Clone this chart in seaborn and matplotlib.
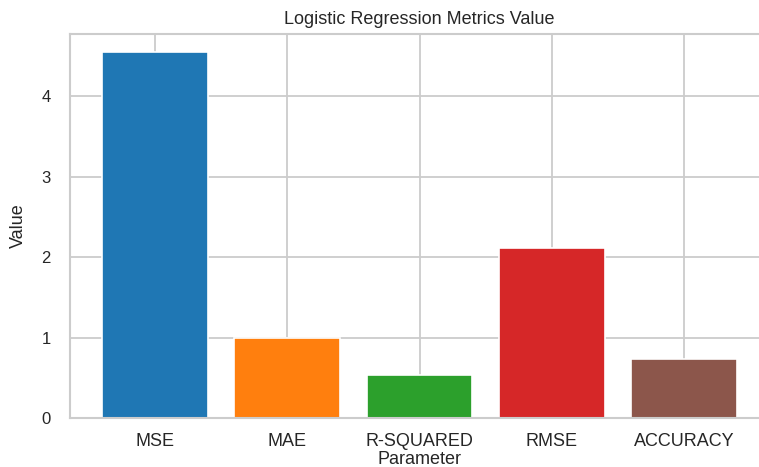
import matplotlib
matplotlib.use("Agg")
import matplotlib.pyplot as plt
import pandas as pd
import seaborn as sns

parameters = ["MSE", "MAE", "R-SQUARED", "RMSE", "ACCURACY"]
values = [4.55, 0.99, 0.54, 2.12, 0.73]
bar_colors = ["#1f77b4", "#ff7f0e", "#2ca02c", "#d62728", "#8c564b"]

sns.set_theme(style="whitegrid")
plt.rcParams["font.family"] = ["Liberation Sans", "DejaVu Sans"]

df = pd.DataFrame({"Parameter": parameters, "Value": values})

fig = plt.figure(figsize=(7.59, 4.67), dpi=100)
ax = fig.add_axes([70 / 759, 1 - 418 / 467, 699 / 759, 384 / 467])

sns.barplot(data=df, x="Parameter", y="Value", hue="Parameter",
            palette=bar_colors, width=0.8, legend=False, ax=ax,
            saturation=1, edgecolor="white", linewidth=1.2)

ax.set_xlim(-0.64, 4.64)
ax.set_ylim(0, max(values) * 1.05)
ax.set_yticks([0, 1, 2, 3, 4])
ax.set_axisbelow(True)
ax.grid(True, axis="both", color="#cccccc", linewidth=1.3)
ax.set_title("Logistic Regression Metrics Value", fontsize=13, pad=7)
ax.set_xlabel("Parameter", fontsize=13, labelpad=0.5)
ax.set_ylabel("Value", fontsize=13, labelpad=10)
ax.tick_params(axis="x", labelsize=13, pad=5)
ax.tick_params(axis="y", labelsize=12, pad=8)
for s in ax.spines.values():
    s.set_color("#cccccc")
    s.set_linewidth(1.5)

fig.savefig("out.png", dpi=100)
